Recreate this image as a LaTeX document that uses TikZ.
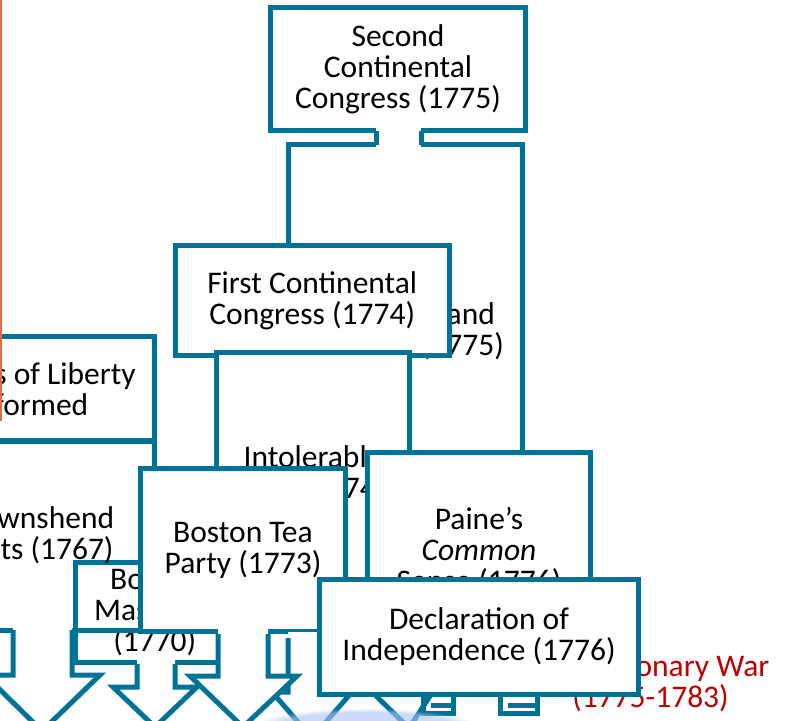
\documentclass[tikz,border=0pt]{standalone}
\usepackage{fontspec}
\setmainfont{Carlito}
\usetikzlibrary{fadings}

\definecolor{boxline}{RGB}{0,114,150}
\definecolor{warred}{RGB}{192,0,0}
\definecolor{edgeorange}{RGB}{228,106,72}
\definecolor{glowblue}{RGB}{170,195,245}
\newcommand{\evfont}{\fontsize{31.5}{31}\selectfont}

\tikzset{
  evbox/.style={draw=boxline, line width=5pt, fill=white, align=center, inner sep=2pt, font=\evfont,
    execute at begin node={\rule{0pt}{26.5pt}}},
  tabline/.style={draw=boxline, line width=5pt},
}

% down arrow: shaft x1 x2, top, shoulder y, shoulders, tip
\newcommand{\downtab}[8]{%
  \fill[white] (#1,#3-6) -- (#1,#4) -- (#5,#4) -- (#7,#8) -- (#6,#4) -- (#2,#4) -- (#2,#3-6) -- cycle;
  \draw[tabline] (#1,#3) -- (#1,#4) -- (#5,#4) -- (#7,#8) -- (#6,#4) -- (#2,#4) -- (#2,#3);
}

\begin{document}
\begin{tikzpicture}[x=1pt, y=-1pt]
  \useasboundingbox (0,0) rectangle (807,721);
  \clip (0,0) rectangle (807,721);

  % upper boxes
  \node[evbox, minimum width=234pt, minimum height=373.5pt] (lexington) at (405.5,331.25) {Lexington and\\Concord (1775)};
  \node[evbox, minimum width=255pt, minimum height=123pt] (second) at (398,69) {Second\\Continental\\Congress (1775)};
  \fill[white] (376,126) rectangle (421,149);
  \draw[tabline] (376,130.5) -- (376,144.5) (421,130.5) -- (421,144.5);
  \node[evbox, minimum width=274.5pt, minimum height=110pt] (first) at (312.25,300.5) {First Continental\\Congress (1774)};
  \node[evbox, minimum width=193pt, minimum height=242.5pt] (intolerable) at (313,473.75) {Intolerable\\Acts (1774)};

  % left boxes
  \node[evbox, minimum width=226.5pt, minimum height=105.5pt] (sons) at (41.25,389) {Sons of Liberty\\formed};
  \draw[edgeorange, line width=1.5pt] (1,0) -- (1,421);
  \node[evbox, minimum width=159.5pt, minimum height=100.5pt] (massacre) at (154.75,612.25) {Boston\\Massacre\\(1770)};
  \node[evbox, fill=none, minimum width=226.5pt, minimum height=190pt] (townshend) at (41.25,535) {Townshend\\Acts (1767)};
  \node[evbox, minimum width=205pt, minimum height=163pt] (teaparty) at (243,550) {Boston Tea\\Party (1773)};
  \node[evbox, minimum width=223pt, minimum height=197.5pt] (paine) at (479,551.25) {Paine’s\\\textit{Common}\\Sense (1776)};

  % arrows along the bottom
  \downtab{13}{72}{630}{675}{-15}{100}{42}{731}
  \downtab{137}{175}{664}{687}{113}{197}{155}{727}
  \downtab{288}{340}{638}{692}{272}{352}{312}{738}
  \downtab{218}{268}{634}{676}{190}{297}{243}{727}
  \downtab{390}{423}{640}{693}{373}{432}{409}{728}
  \draw[tabline] (423,690) -- (423,713) -- (453,713) -- (453,690) (431,705.5) -- (453,705.5);
  \draw[tabline] (500,690) -- (500,713) -- (537,713) -- (537,690) (508,705.5) -- (537,705.5);
  \fill[glowblue, opacity=0.6, path fading=circle with fuzzy edge 20 percent] (365,728) ellipse (115 and 20);

  \node[font=\evfont, text=warred, align=center] (revwar) at (650.5,683) {Revolutionary War\\(1775-1783)};
  \node[evbox, minimum width=319pt, minimum height=115pt] (declaration) at (479,637) {Declaration of\\Independence (1776)};
\end{tikzpicture}
\end{document}
